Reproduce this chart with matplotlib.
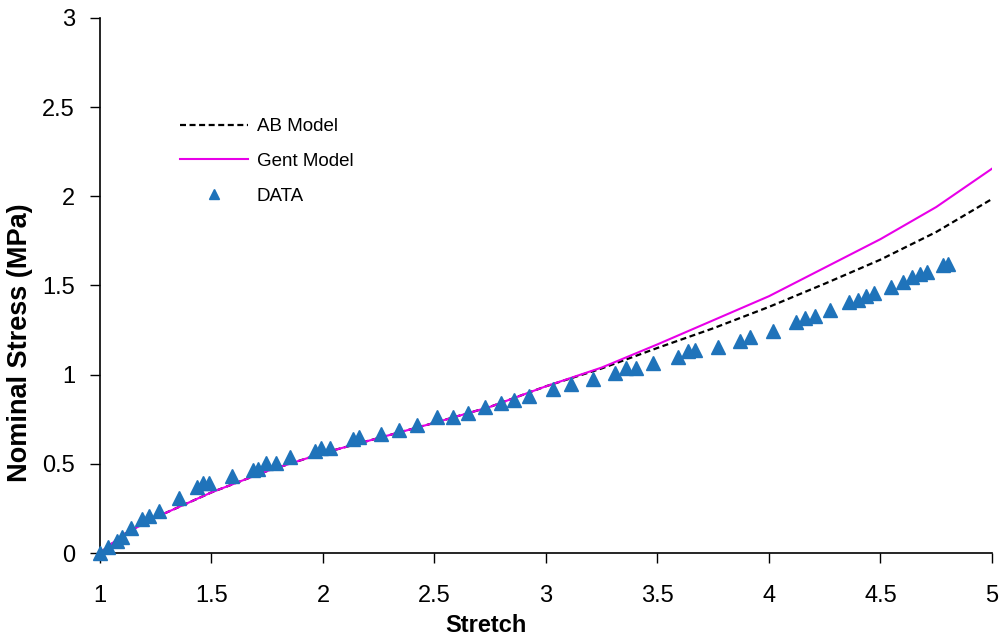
import matplotlib.pyplot as plt

plt.rcParams['font.family'] = ['Liberation Sans', 'DejaVu Sans']

# measured data (stretch, nominal stress in MPa)
data_x = [1.0, 1.036, 1.076, 1.10, 1.14, 1.19, 1.22, 1.265, 1.355, 1.435, 1.46, 1.49,
          1.59, 1.685, 1.71, 1.745, 1.79, 1.85, 1.965, 1.99, 2.03, 2.135, 2.16, 2.26,
          2.34, 2.42, 2.51, 2.585, 2.65, 2.725, 2.80, 2.855, 2.925, 3.03, 3.11, 3.21,
          3.31, 3.36, 3.405, 3.48, 3.59, 3.635, 3.67, 3.77, 3.87, 3.915, 4.02, 4.12,
          4.16, 4.205, 4.275, 4.36, 4.40, 4.435, 4.47, 4.545, 4.60, 4.64, 4.675, 4.71,
          4.78, 4.805]
data_y = [0.0, 0.035, 0.07, 0.09, 0.14, 0.19, 0.21, 0.235, 0.31, 0.37, 0.39, 0.39,
          0.43, 0.465, 0.47, 0.505, 0.505, 0.54, 0.57, 0.59, 0.59, 0.64, 0.65, 0.665,
          0.69, 0.72, 0.76, 0.765, 0.785, 0.82, 0.84, 0.86, 0.88, 0.92, 0.95, 0.975,
          1.01, 1.035, 1.04, 1.065, 1.10, 1.13, 1.14, 1.155, 1.19, 1.21, 1.245, 1.295,
          1.32, 1.33, 1.365, 1.41, 1.42, 1.44, 1.46, 1.49, 1.52, 1.545, 1.565, 1.575,
          1.615, 1.62]

# model curves
model_x = [1.0, 1.1, 1.25, 1.5, 1.75, 2.0, 2.25, 2.5, 2.75, 3.0, 3.25, 3.5, 3.75,
           4.0, 4.25, 4.5, 4.75, 5.0]
ab_y = [0.0, 0.10, 0.20, 0.34, 0.46, 0.56, 0.645, 0.73, 0.82, 0.935, 1.035, 1.15,
        1.26, 1.38, 1.51, 1.645, 1.80, 1.985]
gent_y = [0.0, 0.10, 0.20, 0.34, 0.46, 0.56, 0.645, 0.73, 0.82, 0.935, 1.04, 1.17,
          1.305, 1.44, 1.60, 1.76, 1.94, 2.155]

fig = plt.figure(figsize=(10.02, 6.42), dpi=100)
ax = fig.add_axes([0.0998, 0.1386, 0.8902, 0.8334])

ax.plot(model_x, ab_y, color='black', linestyle=(0, (2.7, 1.6)), linewidth=1.6, label='AB Model')
ax.plot(model_x, gent_y, color='#E800E8', linewidth=1.5, label='Gent Model')
ax.plot(data_x, data_y, linestyle='none', marker='^', markersize=10.5, color='#1F73BA',
        label='DATA', zorder=3, clip_on=False)

ax.set_xlim(1, 5)
ax.set_ylim(0, 3)
ax.set_xticks([1, 1.5, 2, 2.5, 3, 3.5, 4, 4.5, 5])
ax.set_xticklabels(['1', '1.5', '2', '2.5', '3', '3.5', '4', '4.5', '5'])
ax.set_yticks([0, 0.5, 1, 1.5, 2, 2.5, 3])
ax.set_yticklabels(['0', '0.5', '1', '1.5', '2', '2.5', '3'])
ax.tick_params(direction='out', length=7, width=1, labelsize=17)
ax.tick_params(axis='x', pad=16)
ax.tick_params(axis='y', pad=11)
for s in ['top', 'right']:
    ax.spines[s].set_visible(False)
for s in ['left', 'bottom']:
    ax.spines[s].set_linewidth(1.2)

ax.set_xlabel('Stretch', fontsize=17, fontweight='bold')
ax.xaxis.set_label_coords(0.433, -0.114)
ax.set_ylabel('Nominal Stress (MPa)', fontsize=19.5, fontweight='bold')
ax.yaxis.set_label_coords(-0.0755, 0.393)

leg = ax.legend(loc='upper left', bbox_to_anchor=(0.0706, 0.844), frameon=False,
                fontsize=13.5, handlelength=3.63, labelspacing=0.93, handletextpad=0.48,
                markerscale=0.65)

fig.savefig('out.png', dpi=100)
